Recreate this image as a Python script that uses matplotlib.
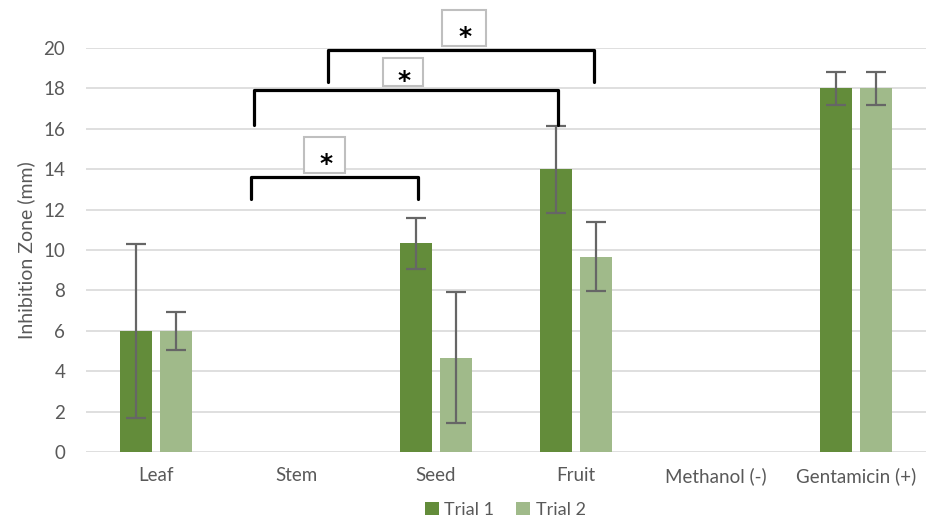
import numpy as np
import matplotlib.pyplot as plt
from matplotlib.patches import Rectangle

plt.rcParams['font.family'] = ['Lato', 'DejaVu Sans']

# Data
categories = ['Leaf', 'Stem', 'Seed', 'Fruit', 'Methanol (-)', 'Gentamicin (+)']
trial1 = [6.0, 0, 10.33, 14.0, 0, 18.0]
trial2 = [6.0, 0, 4.67, 9.67, 0, 18.0]
trial1_err = [4.3, 0, 1.25, 2.15, 0, 0.8]
trial2_err = [0.95, 0, 3.25, 1.7, 0, 0.8]
has_bar = [True, False, True, True, False, True]

# significance brackets: (left, right, top, leg bottom), star box (x0, x1, y0, y1)
brackets = [(0.68, 1.87, 13.6, 12.5), (0.70, 2.87, 17.9, 16.2), (1.23, 3.13, 19.9, 18.3)]
star_boxes = [(1.06, 1.35, 13.8, 15.6), (1.62, 1.91, 18.1, 19.5), (2.04, 2.36, 20.1, 21.9)]

c1 = '#638C3A'
c2 = '#A0BA8A'
txt = '#595959'

fig = plt.figure(figsize=(9.27, 5.21), dpi=100)
ax = fig.add_axes([0.0928, 0.1324, 0.906, 0.7756])

x = np.arange(len(categories))
w = 0.23
idx = [i for i in range(len(categories)) if has_bar[i]]
xs = x[idx]
ax.bar(xs - 0.142, [trial1[i] for i in idx], w, color=c1, label='Trial 1', zorder=2)
ax.bar(xs + 0.142, [trial2[i] for i in idx], w, color=c2, label='Trial 2', zorder=2)
ax.errorbar(xs - 0.142, [trial1[i] for i in idx], yerr=[trial1_err[i] for i in idx],
            fmt='none', ecolor='#666666', elinewidth=1.6, capsize=7, capthick=1.6, zorder=3)
ax.errorbar(xs + 0.142, [trial2[i] for i in idx], yerr=[trial2_err[i] for i in idx],
            fmt='none', ecolor='#666666', elinewidth=1.6, capsize=7, capthick=1.6, zorder=3)

# brackets
for l, r, top, bot in brackets:
    ax.plot([l, l, r, r], [bot, top, top, bot], color='black', lw=2.3,
            solid_joinstyle='round', solid_capstyle='round', clip_on=False, zorder=4)
for x0, x1, y0, y1 in star_boxes:
    ax.add_patch(Rectangle((x0, y0), x1 - x0, y1 - y0, facecolor='white',
                           edgecolor='#BFBFBF', lw=1.5, clip_on=False, zorder=5))
    ax.text((x0 + x1) / 2 + 0.01, (y0 + y1) / 2 - 0.45, '*', ha='center', va='center',
            fontsize=18, fontweight='bold', color='black', zorder=6, clip_on=False,
            family='DejaVu Sans')

ax.set_xlim(-0.5, 5.5)
ax.set_ylim(0, 20)
ax.set_yticks(range(0, 21, 2))
ax.set_xticks(x)
ax.set_xticklabels(categories)
ax.tick_params(length=0, labelsize=13.5, colors=txt)
ax.tick_params(axis='y', pad=15)
ax.tick_params(axis='x', pad=11)
ax.grid(axis='y', color='#D9D9D9', lw=1.2, zorder=0)
ax.set_axisbelow(True)
for s in ax.spines.values():
    s.set_visible(False)
ax.set_ylabel('Inhibition Zone (mm)', fontsize=14, color=txt, labelpad=6)

fig.legend(loc='lower center', bbox_to_anchor=(0.545, -0.025), ncol=2, frameon=False,
           fontsize=13, labelcolor=txt, handlelength=0.8, handleheight=0.8,
           handletextpad=0.3, columnspacing=1.2)

fig.savefig('out.png', dpi=100)
